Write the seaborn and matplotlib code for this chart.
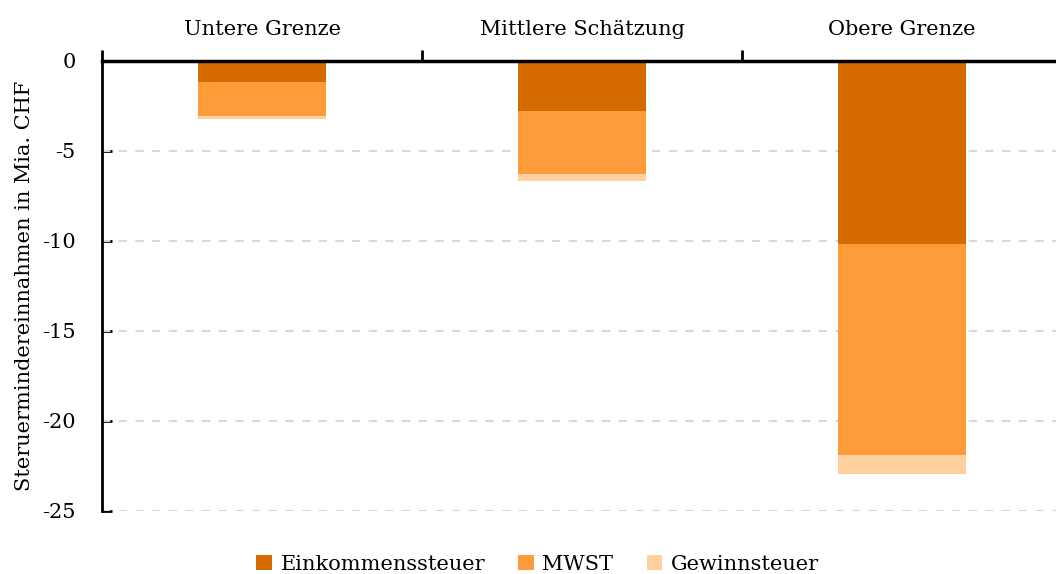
import numpy as np
import pandas as pd
import matplotlib
matplotlib.use("Agg")
import matplotlib.pyplot as plt
import seaborn as sns
from matplotlib.patches import Patch
from matplotlib.ticker import FixedLocator

# ---- data ----
szenarien = ["Untere Grenze", "Mittlere Schätzung", "Obere Grenze"]
einkommen = [-1.2, -2.8, -10.2]
mwst = [-1.85, -3.5, -11.7]
gewinn = [-0.2, -0.35, -1.05]
serien = ["Einkommenssteuer", "MWST", "Gewinnsteuer"]
farben = ["#D46A00", "#FF9C3A", "#FFD0A0"]
y_ticks = [0, -5, -10, -15, -20, -25]

sns.set_theme(style="white")
plt.rcParams["font.family"] = ["DejaVu Serif"]
for k in ["text.color", "axes.labelcolor", "xtick.color", "ytick.color"]:
    plt.rcParams[k] = "black"

FS = 15

fig = plt.figure(figsize=(10.56, 5.74), dpi=100)
ax = fig.add_axes([0.0966, 0.110, 0.9091, 0.784])

# cumulative sums so the stacks can be drawn back to front
stufe1 = np.array(einkommen)
stufe2 = stufe1 + np.array(mwst)
stufe3 = stufe2 + np.array(gewinn)
df = pd.DataFrame({"Szenario": szenarien, "s1": stufe1, "s2": stufe2, "s3": stufe3})

for col, farbe in zip(["s3", "s2", "s1"], farben[::-1]):
    sns.barplot(data=df, x="Szenario", y=col, color=farbe, width=0.4,
                saturation=1, ax=ax, zorder=3, linewidth=0)

ax.set_ylim(-25, 0)
ax.set_xlim(-0.5, 2.5)
ax.set_yticks(y_ticks)
ax.set_yticklabels([str(t) for t in y_ticks], fontsize=FS)
ax.set_xlabel("")

# category labels on top, tick marks at boundaries
ax.xaxis.tick_top()
ax.set_xticks(range(len(szenarien)))
ax.set_xticklabels(szenarien, fontsize=FS)
ax.tick_params(axis="x", which="major", length=0, pad=16)
ax.xaxis.set_minor_locator(FixedLocator([-0.5, 0.5, 1.5]))
ax.tick_params(axis="x", which="minor", length=8, width=2, direction="out",
               top=True, bottom=False, color="black")
ax.tick_params(axis="y", length=7, width=2, direction="in", left=True,
               color="black", pad=19)

ax.set_ylabel("Steruermindereinnahmen in Mia. CHF", fontsize=FS)
ax.yaxis.set_label_coords(-0.071, 0.5)

for y in y_ticks[1:]:
    ax.axhline(y, color="#d9d9d9", lw=1.5, ls=(0, (4, 4)), zorder=1)

for s in ["right", "bottom"]:
    ax.spines[s].set_visible(False)
ax.spines["top"].set_linewidth(2.5)
ax.spines["top"].set_color("black")
ax.spines["top"].set_zorder(5)
ax.spines["left"].set_linewidth(2)
ax.spines["left"].set_color("black")

handles = [Patch(facecolor=c, edgecolor="none", label=l) for c, l in zip(farben, serien)]
fig.legend(handles=handles, loc="lower center", bbox_to_anchor=(0.509, -0.032), ncol=3,
           frameon=False, fontsize=FS, handlelength=0.75, handleheight=0.75,
           handletextpad=0.4, columnspacing=1.6)

fig.savefig("out.png", dpi=100)
